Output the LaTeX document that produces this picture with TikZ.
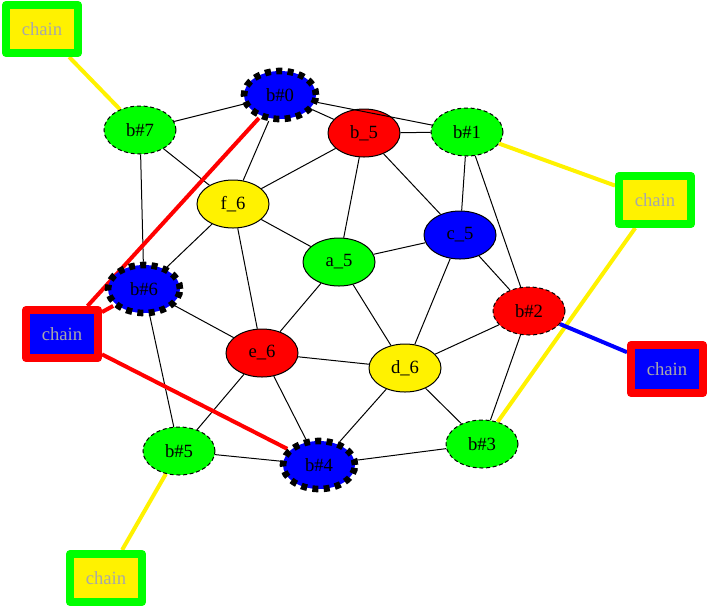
\documentclass[tikz,border=0pt]{standalone}
\usepackage{fontspec}
\setmainfont{Liberation Serif}
\usetikzlibrary{shapes.geometric,backgrounds}
\definecolor{chaintext}{RGB}{168,168,168}
\begin{document}
\begin{tikzpicture}[x=0.75pt,y=-0.75pt,
 every node/.style={font=\fontsize{14}{16}\selectfont},
 nd/.style={ellipse,draw=black,line width=0.75pt,minimum width=54pt,minimum height=36pt,inner sep=0pt},
 thindash/.style={dash pattern=on 3pt off 2pt},
 thickdash/.style={line width=5pt,dash pattern=on 4.5pt off 4pt},
 chainbox/.style={rectangle,line width=6pt,line join=round,minimum width=54pt,minimum height=36pt,inner sep=0pt,text=chaintext},
 ed/.style={line width=0.75pt,draw=black},
 ced/.style={line width=3pt}]
\useasboundingbox (0,0) rectangle (709,608);
% nodes
\node[nd,fill=green,thindash] (b7) at (140,130) {b\#7};
\node[nd,fill=blue,thickdash] (b0) at (280,95) {b\#0};
\node[nd,fill=red] (b5) at (364,133) {b\_5};
\node[nd,fill=green,thindash] (b1) at (467,132) {b\#1};
\node[nd,fill=yellow] (f6) at (233,204) {f\_6};
\node[nd,fill=blue] (c5) at (460,235) {c\_5};
\node[nd,fill=green] (a5) at (339,262) {a\_5};
\node[nd,fill=blue,thickdash] (b6) at (144,289) {b\#6};
\node[nd,fill=red,thindash] (b2) at (529,311) {b\#2};
\node[nd,fill=red] (e6) at (262,353) {e\_6};
\node[nd,fill=yellow] (d6) at (405,368) {d\_6};
\node[nd,fill=green,thindash] (b5h) at (179,451) {b\#5};
\node[nd,fill=blue,thickdash] (b4) at (319,465) {b\#4};
\node[nd,fill=green,thindash] (b3) at (482,444) {b\#3};
\node[chainbox,draw=green,fill=yellow] (ctl) at (42,29) {chain};
\node[chainbox,draw=green,fill=yellow] (crt) at (655,200) {chain};
\node[chainbox,draw=red,fill=blue] (cl) at (62,334) {chain};
\node[chainbox,draw=red,fill=blue] (cr) at (667,369) {chain};
\node[chainbox,draw=green,fill=yellow] (cbl) at (106,578) {chain};
\begin{pgfonlayer}{background}
\draw[ed] (b7) -- (b0);
\draw[ed] (b7) -- (f6);
\draw[ed] (b7) -- (b6);
\draw[ed] (b0) -- (b5);
\draw[ed] (b0) -- (f6);
\draw[ed] (b5) -- (b1);
\draw[ed] (b5) -- (f6);
\draw[ed] (b5) -- (a5);
\draw[ed] (b5) -- (c5);
\draw[ed] (b1) -- (c5);
\draw[ed] (b1) -- (b2);
\draw[ed] (f6) -- (a5);
\draw[ed] (f6) -- (b6);
\draw[ed] (f6) -- (e6);
\draw[ed] (c5) -- (a5);
\draw[ed] (c5) -- (b2);
\draw[ed] (c5) -- (d6);
\draw[ed] (a5) -- (e6);
\draw[ed] (a5) -- (d6);
\draw[ed] (b6) -- (e6);
\draw[ed] (b6) -- (b5h);
\draw[ed] (b2) -- (d6);
\draw[ed] (b2) -- (b3);
\draw[ed] (e6) -- (d6);
\draw[ed] (e6) -- (b5h);
\draw[ed] (e6) -- (b4);
\draw[ed] (d6) -- (b4);
\draw[ed] (d6) -- (b3);
\draw[ed] (b5h) -- (b4);
\draw[ed] (b4) -- (b3);
\draw[ced,yellow] (ctl) -- (b7);
\draw[ced,yellow] (crt) -- (b1);
\draw[ced,yellow] (crt) -- (b3);
\draw[ced,yellow] (cbl) -- (b5h);
\draw[ced,red] (cl) -- (b0);
\draw[ced,red] (cl) -- (b6);
\draw[ced,red] (cl) -- (b4);
\draw[ced,blue] (cr) -- (b2);
\end{pgfonlayer}
\draw[ed] (b0) -- (b1);
\end{tikzpicture}
\end{document}
